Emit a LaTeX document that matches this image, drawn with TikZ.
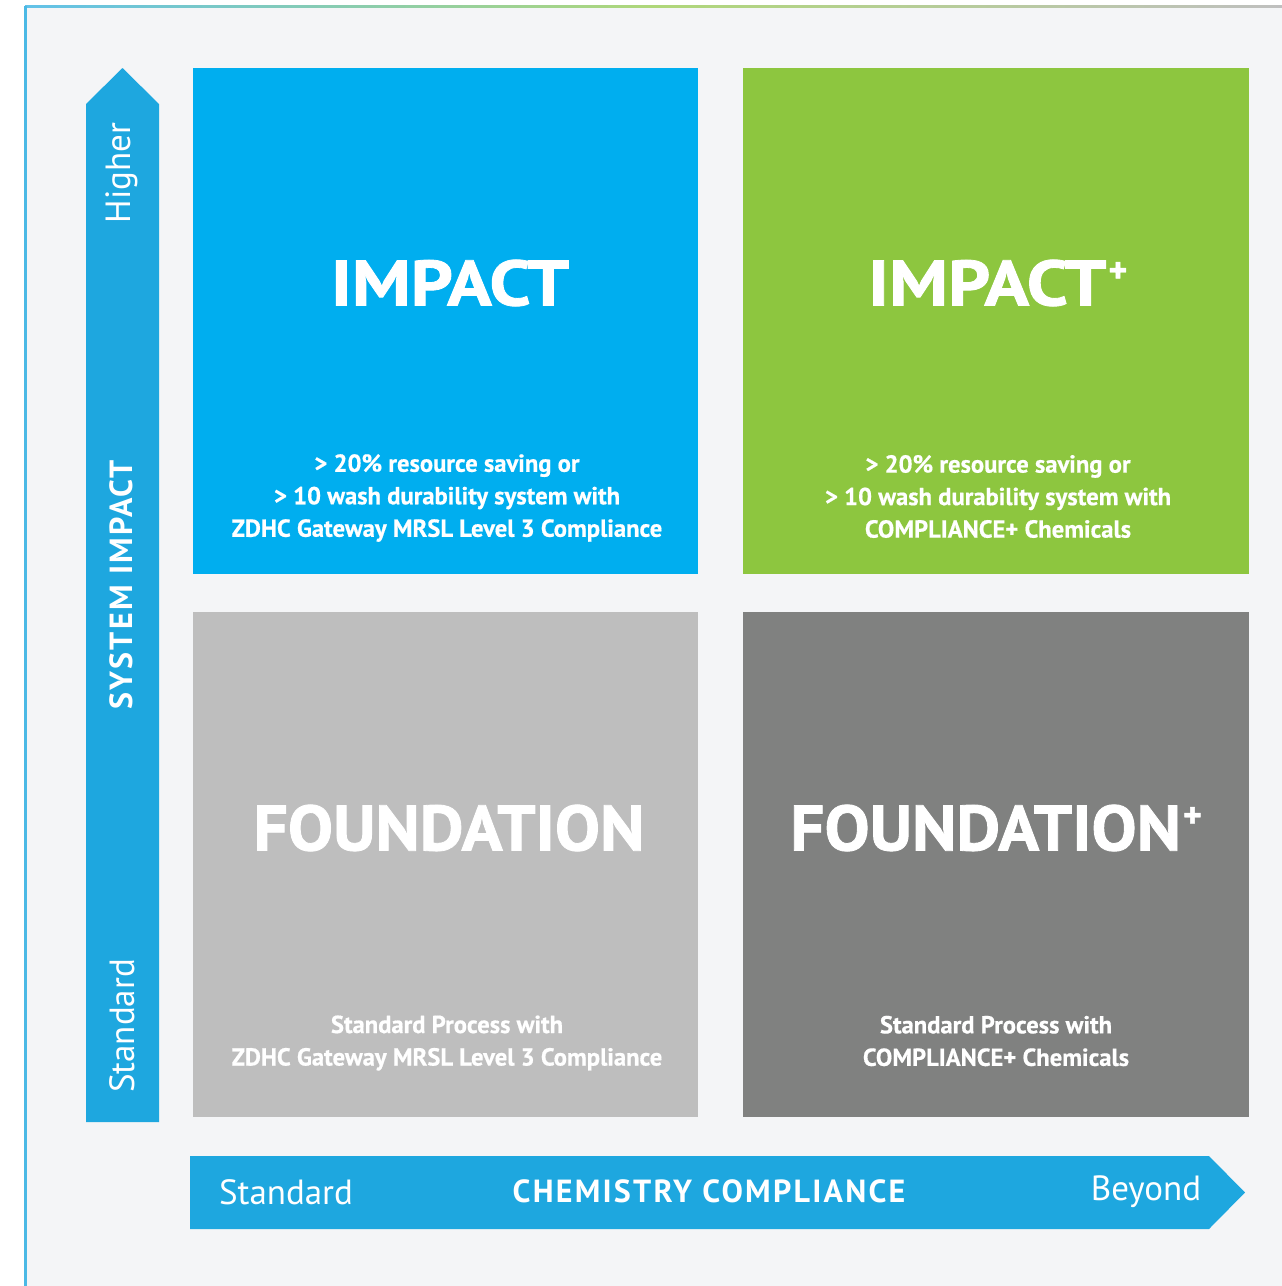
\documentclass[tikz,border=0pt]{standalone}
\usepackage{fontspec}
\setmainfont{PT Sans}
\newfontfamily\heavyfont[FakeBold=1.3]{PT Sans Bold}
\newfontfamily\semiheavyfont[FakeBold=0.6]{PT Sans Bold}
\definecolor{bgc}{HTML}{F4F5F7}
\definecolor{arrowc}{HTML}{1EA7DF}
\definecolor{impactc}{HTML}{00AEEF}
\definecolor{greenc}{HTML}{8DC63F}
\definecolor{lgrayc}{HTML}{BEBEBE}
\definecolor{dgrayc}{HTML}{808180}
\tikzset{
  quad/.style={fill=#1, draw=none, anchor=north west, inner sep=0pt},
  title/.style={text=white, inner sep=0pt, font=\heavyfont\fontsize{64}{64}\selectfont},
  body/.style={text=white, align=center, font=\semiheavyfont\fontsize{24.6}{32.5}\selectfont},
  axislbl/.style={text=white, font=\fontsize{35}{35}\selectfont},
  axisbold/.style={text=white, font=\bfseries\fontsize{32}{32}\selectfont\addfontfeatures{LetterSpace=7}},
}
\newcommand{\plusmark}{\hspace{2pt}\raisebox{23pt}{\fontsize{36}{36}\selectfont +}}
\newcommand{\wideA}[1]{\scalebox{1.15}[1]{#1}}
\newcommand{\wideB}[1]{\scalebox{1.055}[1]{#1}}
\begin{document}
\begin{tikzpicture}[x=1pt,y=-1pt]
\useasboundingbox (0,0) rectangle (1282,1286);
% frame
\fill[white] (0,0) rectangle (1282,1286);
\fill[bgc] (25,6) rectangle (1282,1286);
\shade[left color=arrowc!70, right color=black!25, middle color=greenc!70] (25,5) rectangle (1282,7);
\fill[arrowc!80] (24,6) rectangle (26.5,1286);
% quadrants
\node[quad=impactc, minimum width=505pt, minimum height=506pt] (imp) at (193,68) {};
\node[quad=greenc, minimum width=506pt, minimum height=506pt] (impp) at (743,68) {};
\node[quad=lgrayc, minimum width=505pt, minimum height=505pt] (fnd) at (193,612) {};
\node[quad=dgrayc, minimum width=506pt, minimum height=505pt] (fndp) at (743,612) {};
% titles
\node[title] (impt) at (450,283) {\wideA{IMPACT}};
\node[title, anchor=west] (imppt) at (868,283) {\wideA{IMPACT}\plusmark};
\node[title] (fndt) at (449,828) {\wideB{FOUNDATION}};
\node[title, anchor=west] (fndpt) at (790,828) {\wideB{FOUNDATION}\plusmark};
% body texts
\node[body] (impb) at (447,498) {> 20\% resource saving or\\> 10 wash durability system with\\ZDHC Gateway MRSL Level 3 Compliance};
\node[body] (imppb) at (998,496.5) {> 20\% resource saving or\\> 10 wash durability system with\\COMPLIANCE+ Chemicals};
\node[body] (fndb) at (447,1043) {Standard Process with\\ZDHC Gateway MRSL Level 3 Compliance};
\node[body] (fndpb) at (996,1041) {Standard Process with\\COMPLIANCE+ Chemicals};
% vertical arrow
\fill[arrowc] (86,1122) -- (86,104) -- (122.5,68) -- (159,104) -- (159,1122) -- cycle;
\node[axislbl, rotate=90] (vhi) at (122,173) {Higher};
\node[axisbold, rotate=90] (vsys) at (121,585) {SYSTEM IMPACT};
\node[axislbl, rotate=90] (vstd) at (122,1026) {Standard};
% horizontal arrow
\fill[arrowc] (190,1156) -- (1209,1156) -- (1245,1192.5) -- (1209,1229) -- (190,1229) -- cycle;
\node[axislbl] (hstd) at (286,1192) {Standard};
\node[axisbold] (hcc) at (709,1191) {CHEMISTRY COMPLIANCE};
\node[axislbl] (hby) at (1146,1192) {Beyond};
\end{tikzpicture}
\end{document}
